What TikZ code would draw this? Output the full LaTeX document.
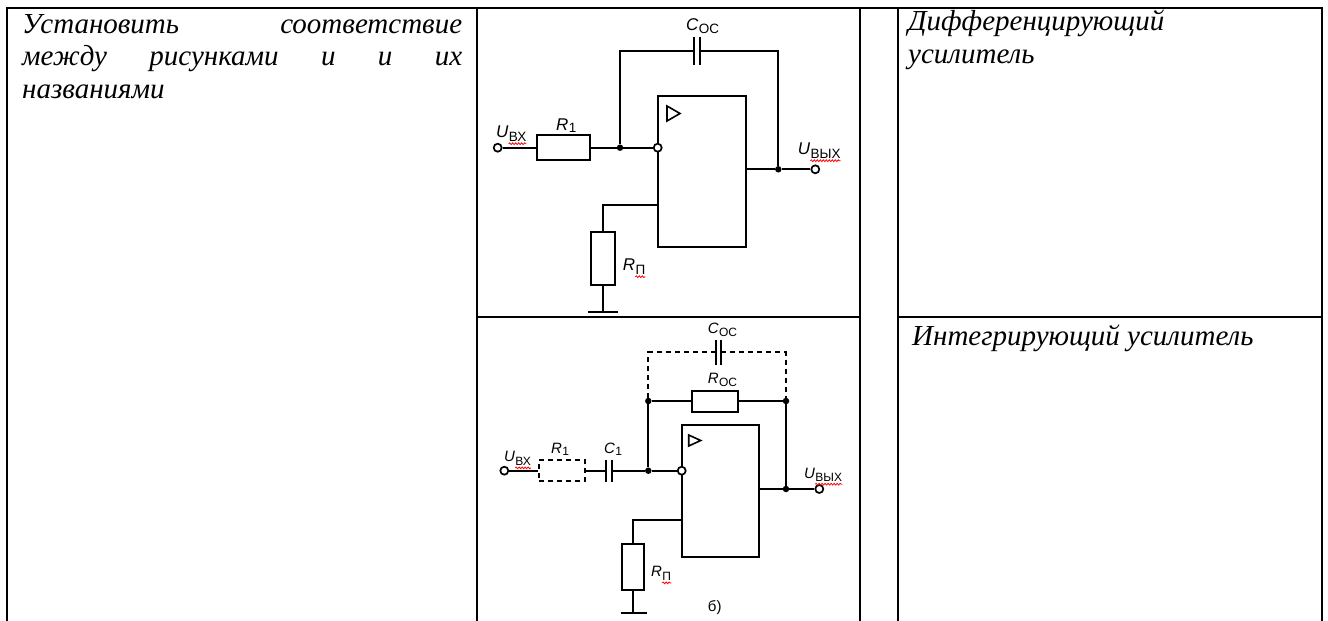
\documentclass[tikz,border=0pt]{standalone}
\usepackage{fontspec}
\setmainfont{Liberation Serif}
\newfontfamily\schfont{Liberation Sans}
\usepackage{tikz}
\usetikzlibrary{decorations.pathmorphing}
\tikzstyle{tabline} = [draw, line width=2.8pt]
\tikzstyle{wire} = [draw, line width=2pt]
\tikzstyle{dashwire} = [wire, dash pattern=on 5pt off 4pt]
\tikzstyle{res} = [rectangle, draw, line width=2pt, inner sep=0pt]
\tikzstyle{capbox} = [rectangle, inner sep=0pt, minimum width=6pt]
\tikzstyle{opamp} = [rectangle, draw, line width=2pt, inner sep=0pt]
\tikzstyle{term} = [circle, draw, line width=1.7pt, fill=white, inner sep=0pt, minimum size=8pt]
\tikzstyle{jdot} = [circle, fill, inner sep=0pt, minimum size=6.5pt]
\tikzstyle{lab} = [inner sep=0pt, anchor=base west, font=\schfont\itshape\fontsize{17}{17}\selectfont]
\tikzstyle{labsub} = [inner sep=0pt, anchor=base west, font=\schfont\fontsize{13.5}{13.5}\selectfont]
\tikzstyle{labsm} = [lab, font=\schfont\itshape\fontsize{15}{15}\selectfont]
\tikzstyle{subsm} = [labsub, font=\schfont\fontsize{12}{12}\selectfont]
\tikzstyle{spell} = [draw=red, line width=0.8pt, decorate,
                     decoration={snake, amplitude=0.9pt, segment length=3pt}]
\tikzstyle{task} = [inner sep=0pt, anchor=north west,
                    font=\fontsize{29}{32.5}\selectfont\itshape]

\begin{document}
\begin{tikzpicture}[x=1pt, y=-1pt]
\useasboundingbox (0,0) rectangle (1328,621);

\path[tabline] (7,621) -- (7,8) -- (1322,8) -- (1322,621);
\path[tabline] (477,8) -- (477,621) (860,8) -- (860,621) (898,8) -- (898,621);
\path[tabline] (477,317) -- (860,317) (898,317) -- (1322,317);

\node[task, text width=440pt, align=justify] (quest) at (22,11)
  {\rule{0pt}{22pt}Установить соответствие\linebreak между рисунками и и их\linebreak названиями};
\node[task, align=left] (ansA) at (908,8) {\rule{0pt}{22pt}Дифференцирующий\\[0.5pt]усилитель};
\node[task] (ansB) at (912,323) {\rule{0pt}{22pt}Интегрирующий усилитель};

\node[opamp, minimum width=88pt, minimum height=151pt] (oaA) at (702,171.5) {};
\node[term] (uinA) at (497.7,147.7) {};
\node[res, minimum width=53pt, minimum height=25pt] (r1A) at (563.4,147.7) {};
\node[jdot] (jA) at (620,147.7) {};
\node[term] (inA) at (657.7,147.7) {};
\node[capbox, minimum height=27pt] (cosA) at (697,51) {};
\node[jdot] (joA) at (778.3,169.3) {};
\node[term] (uoutA) at (815.3,169.3) {};
\node[res, minimum width=24pt, minimum height=53pt] (rpA) at (602.5,258.7) {};
\coordinate (npA) at (657.7,205);
\coordinate (gA) at (602.5,312.3);

\path[wire] (uinA) -- (r1A) -- (jA) -- (inA);
\path[wire] (jA) |- (cosA.west);
\path[wire] (cosA.east) -| (joA);
\path[wire] (cosA.north west) -- (cosA.south west) (cosA.north east) -- (cosA.south east);
\path[wire] (oaA.east |- joA) -- (joA) -- (uoutA);
\path[wire] (npA) -| (rpA.north);
\path[wire] (rpA.south) -- (gA);
\path[wire] ([xshift=-15pt]gA) -- ([xshift=15pt]gA);
\path[wire, line width=1.6pt] ([shift={(10,11)}]oaA.north west) -- ++(0,15) -- ++(13,-7.5) -- cycle;

\node[lab] (uinAL) at (496,137) {U};
\node[labsub] (uinAS) at ([yshift=-4pt]uinAL.base east) {ВХ};
\node[lab] (r1AL) at (556,130) {R};
\node[labsub] (r1AS) at ([yshift=-2pt]r1AL.base east) {1};
\node[lab] (cosAL) at (686,30.7) {C};
\node[labsub] (cosAS) at ([yshift=-3pt]cosAL.base east) {ОС};
\node[lab] (uoutAL) at (797.7,154) {U};
\node[labsub] (uoutAS) at ([yshift=-4pt]uoutAL.base east) {ВЫХ};
\node[lab] (rpAL) at (622.7,270) {R};
\node[labsub] (rpAS) at ([yshift=-4pt]rpAL.base east) {П};
\path[spell] ([yshift=-2.5pt]uinAS.south west) -- ([yshift=-2.5pt]uinAS.south east);
\path[spell] ([yshift=-2.5pt]uoutAS.south west) -- ([yshift=-2.5pt]uoutAS.south east);
\path[spell] ([yshift=-2.5pt]rpAS.south west) -- ([yshift=-2.5pt]rpAS.south east);

\node[opamp, minimum width=77pt, minimum height=131.7pt] (oaB) at (720.2,490.85) {};
\node[term] (uinB) at (504.3,470.7) {};
\node[res, dash pattern=on 5pt off 4pt, minimum width=46pt, minimum height=21pt] (r1B) at (562.3,470.7) {};
\node[capbox, minimum width=5.5pt, minimum height=22pt] (c1B) at (609.4,470.7) {};
\node[jdot] (jB) at (648.3,470.7) {};
\node[term] (inB) at (681.7,470.7) {};
\node[jdot] (jBl) at (648.3,401) {};
\node[res, minimum width=46pt, minimum height=21pt] (rosB) at (714.9,401) {};
\node[jdot] (jBr) at (786,401) {};
\node[jdot] (joB) at (786,489) {};
\node[term] (uoutB) at (819.3,489) {};
\node[capbox, minimum width=5pt, minimum height=24pt] (cosB) at (718.5,352.3) {};
\node[res, minimum width=22pt, minimum height=46pt] (rpB) at (632.7,567.2) {};
\coordinate (npB) at (681.7,520);
\coordinate (gB) at (633.5,613.3);

\path[wire] (uinB) -- (r1B);
\path[wire] (r1B) -- (c1B.west);
\path[wire] (c1B.east) -- (jB) -- (inB);
\path[wire] (c1B.north west) -- (c1B.south west) (c1B.north east) -- (c1B.south east);
\path[wire] (jB) -- (jBl) -- (rosB) -- (jBr) -- (joB);
\path[wire] (oaB.east |- joB) -- (joB) -- (uoutB);
\path[dashwire] (jBl) |- (cosB.west);
\path[dashwire] (cosB.east) -| (jBr);
\path[wire] (cosB.north west) -- (cosB.south west) (cosB.north east) -- (cosB.south east);
\path[wire] (npB) -| (rpB.north);
\path[wire] (rpB.south) -- (rpB.south |- gB);
\path[wire] ([xshift=-13pt]gB) -- ([xshift=13pt]gB);
\path[wire, line width=1.6pt] ([shift={(8,11)}]oaB.north west) -- ++(0,11) -- ++(12,-5.5) -- cycle;

\node[labsm] (uinBL) at (504,461.7) {U};
\node[subsm] (uinBS) at ([yshift=-3.5pt]uinBL.base east) {ВХ};
\node[labsm] (r1BL) at (551,453) {R};
\node[subsm] (r1BS) at ([yshift=-2pt]r1BL.base east) {1};
\node[labsm] (c1BL) at (604,453) {C};
\node[subsm] (c1BS) at ([yshift=-2pt]c1BL.base east) {1};
\node[labsm] (cosBL) at (707.7,333) {C};
\node[subsm] (cosBS) at ([yshift=-3pt]cosBL.base east) {ОС};
\node[labsm] (rosBL) at (707.7,383.3) {R};
\node[subsm] (rosBS) at ([yshift=-3pt]rosBL.base east) {ОС};
\node[labsm] (uoutBL) at (804,478) {U};
\node[subsm] (uoutBS) at ([yshift=-3.5pt]uoutBL.base east) {ВЫХ};
\node[labsm] (rpBL) at (651,576.7) {R};
\node[subsm] (rpBS) at ([yshift=-3.5pt]rpBL.base east) {П};
\node[inner sep=0pt, anchor=base west, font=\schfont\fontsize{15}{15}\selectfont] (capB) at (707.7,611.7) {б)};
\path[spell] ([yshift=-2.5pt]uinBS.south west) -- ([yshift=-2.5pt]uinBS.south east);
\path[spell] ([yshift=-2.5pt]uoutBS.south west) -- ([yshift=-2.5pt]uoutBS.south east);
\path[spell] ([yshift=-2.5pt]rpBS.south west) -- ([yshift=-2.5pt]rpBS.south east);
\end{tikzpicture}
\end{document}
